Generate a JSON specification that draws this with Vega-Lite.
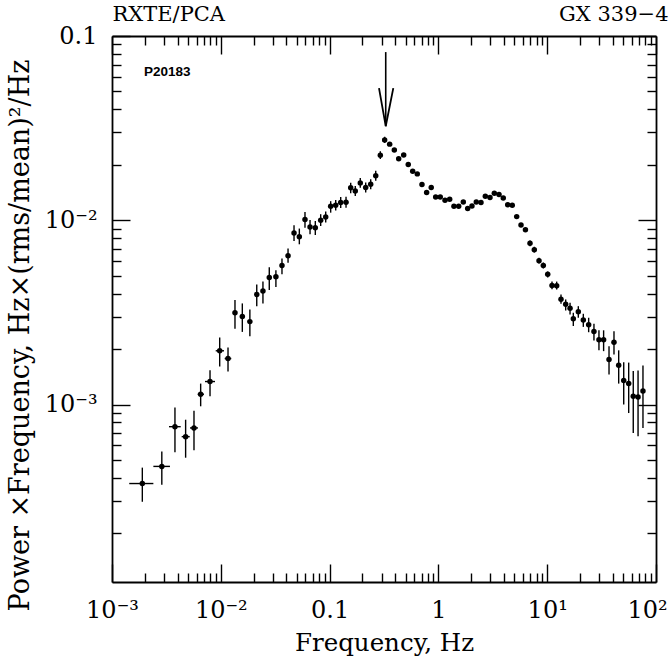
{
  "$schema": "https://vega.github.io/schema/vega-lite/v6.json",
  "width": 544,
  "height": 546,
  "autosize": {"type": "none"},
  "padding": {"left": 112, "top": 36, "right": 14, "bottom": 75},
  "background": "white",
  "config": {
    "view": {"stroke": null},
    "axis": {
      "grid": false,
      "domainColor": "black",
      "domainWidth": 1.8,
      "tickColor": "black",
      "tickWidth": 1.4,
      "labelFont": "DejaVu Serif",
      "labelFontSize": 24,
      "labelColor": "black",
      "titleFont": "DejaVu Serif",
      "titleFontSize": 24,
      "titleFontWeight": "normal",
      "titleColor": "black"
    }
  },
  "datasets": {
    "pts": [
      {"f": 0.0019, "p": 0.000373, "lo": 0.000297, "hi": 0.000455, "flo": 0.00144, "fhi": 0.0024},
      {"f": 0.00287, "p": 0.000462, "lo": 0.000367, "hi": 0.000557, "flo": 0.0024, "fhi": 0.00341},
      {"f": 0.00379, "p": 0.000759, "lo": 0.000551, "hi": 0.000964, "flo": 0.00334, "fhi": 0.00428},
      {"f": 0.00475, "p": 0.00067, "lo": 0.000515, "hi": 0.000828, "flo": 0.00437, "fhi": 0.00518},
      {"f": 0.00567, "p": 0.000747, "lo": 0.000565, "hi": 0.000927, "flo": 0.00521, "fhi": 0.00617},
      {"f": 0.00653, "p": 0.001138, "lo": 0.000979, "hi": 0.0013, "flo": 0.00613, "fhi": 0.00701},
      {"f": 0.00796, "p": 0.001334, "lo": 0.00111, "hi": 0.001535, "flo": 0.00716, "fhi": 0.00885},
      {"f": 0.00977, "p": 0.001959, "lo": 0.00161, "hi": 0.00231, "flo": 0.00898, "fhi": 0.0107},
      {"f": 0.01165, "p": 0.001778, "lo": 0.00151, "hi": 0.00204, "flo": 0.01086, "fhi": 0.01248},
      {"f": 0.0135, "p": 0.00315, "lo": 0.00258, "hi": 0.00369},
      {"f": 0.01577, "p": 0.00301, "lo": 0.00248, "hi": 0.00354},
      {"f": 0.0185, "p": 0.00282, "lo": 0.00235, "hi": 0.00328},
      {"f": 0.0214, "p": 0.00396, "lo": 0.00342, "hi": 0.00449},
      {"f": 0.0244, "p": 0.00413, "lo": 0.00354, "hi": 0.00465},
      {"f": 0.0279, "p": 0.00489, "lo": 0.00418, "hi": 0.00557},
      {"f": 0.0321, "p": 0.00494, "lo": 0.00434, "hi": 0.00535},
      {"f": 0.0365, "p": 0.00569, "lo": 0.00509, "hi": 0.00621},
      {"f": 0.0415, "p": 0.00643, "lo": 0.00589, "hi": 0.00702},
      {"f": 0.0471, "p": 0.00853, "lo": 0.00772, "hi": 0.0094},
      {"f": 0.0527, "p": 0.00815, "lo": 0.00741, "hi": 0.00902},
      {"f": 0.0594, "p": 0.01009, "lo": 0.00912, "hi": 0.0111},
      {"f": 0.0661, "p": 0.0092, "lo": 0.00839, "hi": 0.01004},
      {"f": 0.0739, "p": 0.00912, "lo": 0.00832, "hi": 0.00991},
      {"f": 0.0828, "p": 0.01, "lo": 0.00931, "hi": 0.01079},
      {"f": 0.0921, "p": 0.01042, "lo": 0.00972, "hi": 0.01115},
      {"f": 0.1023, "p": 0.01191, "lo": 0.011, "hi": 0.0127},
      {"f": 0.1138, "p": 0.01208, "lo": 0.0113, "hi": 0.01288},
      {"f": 0.1265, "p": 0.01248, "lo": 0.01165, "hi": 0.01336},
      {"f": 0.1416, "p": 0.01253, "lo": 0.0117, "hi": 0.01343},
      {"f": 0.1563, "p": 0.015, "lo": 0.014, "hi": 0.016},
      {"f": 0.1722, "p": 0.01442, "lo": 0.01355, "hi": 0.01535},
      {"f": 0.1914, "p": 0.01596, "lo": 0.015, "hi": 0.01698},
      {"f": 0.2147, "p": 0.01507, "lo": 0.01415, "hi": 0.01603},
      {"f": 0.2387, "p": 0.0157, "lo": 0.01473, "hi": 0.01671},
      {"f": 0.2655, "p": 0.01746, "lo": 0.0164, "hi": 0.01858},
      {"f": 0.2925, "p": 0.02254, "lo": 0.0215, "hi": 0.0237},
      {"f": 0.3207, "p": 0.0273, "lo": 0.0263, "hi": 0.0284},
      {"f": 0.3565, "p": 0.0259},
      {"f": 0.3935, "p": 0.0241},
      {"f": 0.4315, "p": 0.0216},
      {"f": 0.4797, "p": 0.0226},
      {"f": 0.5284, "p": 0.0201},
      {"f": 0.5803, "p": 0.01845},
      {"f": 0.6397, "p": 0.01786},
      {"f": 0.7063, "p": 0.01563},
      {"f": 0.7798, "p": 0.01415},
      {"f": 0.8592, "p": 0.01507},
      {"f": 0.944, "p": 0.01339},
      {"f": 1.04, "p": 0.01339},
      {"f": 1.15, "p": 0.01285},
      {"f": 1.27, "p": 0.013},
      {"f": 1.39, "p": 0.01191},
      {"f": 1.537, "p": 0.01191},
      {"f": 1.694, "p": 0.01257},
      {"f": 1.858, "p": 0.01158},
      {"f": 2.035, "p": 0.01197},
      {"f": 2.229, "p": 0.01257},
      {"f": 2.463, "p": 0.01248},
      {"f": 2.7, "p": 0.01349},
      {"f": 2.98, "p": 0.01328},
      {"f": 3.265, "p": 0.01402},
      {"f": 3.606, "p": 0.0138},
      {"f": 3.947, "p": 0.01321},
      {"f": 4.335, "p": 0.01216},
      {"f": 4.775, "p": 0.01208},
      {"f": 5.243, "p": 0.01047},
      {"f": 5.745, "p": 0.00942},
      {"f": 6.31, "p": 0.00889},
      {"f": 6.95, "p": 0.0075, "lo": 0.00723, "hi": 0.00778},
      {"f": 7.61, "p": 0.00693, "lo": 0.00668, "hi": 0.00719},
      {"f": 8.41, "p": 0.00604, "lo": 0.00582, "hi": 0.00627},
      {"f": 9.21, "p": 0.00569, "lo": 0.00548, "hi": 0.0059},
      {"f": 10.11, "p": 0.00509, "lo": 0.0049, "hi": 0.00528},
      {"f": 11.07, "p": 0.00443, "lo": 0.00422, "hi": 0.00466},
      {"f": 12.22, "p": 0.00442, "lo": 0.00421, "hi": 0.00465},
      {"f": 13.39, "p": 0.00373, "lo": 0.00352, "hi": 0.00396},
      {"f": 14.79, "p": 0.0035, "lo": 0.00324, "hi": 0.00372},
      {"f": 16.22, "p": 0.00333, "lo": 0.00308, "hi": 0.00357},
      {"f": 17.38, "p": 0.00292, "lo": 0.00267, "hi": 0.00315},
      {"f": 19.32, "p": 0.00319, "lo": 0.00296, "hi": 0.00342},
      {"f": 21.48, "p": 0.00288, "lo": 0.00264, "hi": 0.00311},
      {"f": 24.05, "p": 0.00271, "lo": 0.00247, "hi": 0.00296},
      {"f": 26.9, "p": 0.00249, "lo": 0.00223, "hi": 0.00275},
      {"f": 29.9, "p": 0.00225, "lo": 0.00197, "hi": 0.00253},
      {"f": 33.0, "p": 0.00225, "lo": 0.00195, "hi": 0.00253},
      {"f": 37.0, "p": 0.001758, "lo": 0.001456, "hi": 0.00207},
      {"f": 41.1, "p": 0.00218, "lo": 0.00187, "hi": 0.0025},
      {"f": 45.4, "p": 0.001636, "lo": 0.0013, "hi": 0.00197},
      {"f": 50.5, "p": 0.00135, "lo": 0.001, "hi": 0.0017},
      {"f": 56.1, "p": 0.0013, "lo": 0.0009, "hi": 0.00169},
      {"f": 61.8, "p": 0.00111, "lo": 0.000702, "hi": 0.00152},
      {"f": 68.4, "p": 0.0011, "lo": 0.000673, "hi": 0.00153},
      {"f": 75.9, "p": 0.001186, "lo": 0.000747, "hi": 0.00163}
    ],
    "arrow": [{"f": 0.328, "top": 0.0818, "tip": 0.0324}],
    "head": [
      {"f": 0.2845, "p": 0.0521, "o": 1},
      {"f": 0.328, "p": 0.0324, "o": 2},
      {"f": 0.385, "p": 0.0521, "o": 3}
    ],
    "note": [{"f": 0.00197, "p": 0.0635, "t": "P20183"}]
  },
  "resolve": {"axis": {"x": "independent", "y": "independent"}},
  "layer": [
    {
      "data": {"name": "pts"},
      "transform": [{"filter": "isValid(datum.lo)"}],
      "mark": {"type": "rule", "color": "black", "strokeWidth": 1.4},
      "encoding": {
        "x": {
          "field": "f", "type": "quantitative",
          "scale": {"type": "log", "domain": [0.001, 100], "nice": false},
          "axis": {
            "orient": "bottom",
            "values": [0.001, 0.01, 0.1, 1, 10, 100],
            "ticks": false,
            "domain": false,
            "labelExpr": "datum.value < 0.005 ? '10⁻³' : datum.value < 0.05 ? '10⁻²' : datum.value < 0.5 ? '0.1' : datum.value < 5 ? '1' : datum.value < 50 ? '10¹' : '10²'",
            "labelPadding": 35,
            "labelBaseline": "alphabetic",
            "labelOffset": {"condition": {"test": "datum.value > 50", "value": -9}, "value": 0},
            "labelFlush": false,
            "labelOverlap": false,
            "labelBound": false,
            "title": "Frequency, Hz",
            "titleX": 272,
            "titleY": 68,
            "titleAlign": "center",
            "titleBaseline": "alphabetic",
            "titleFontSize": 24.5
          }
        },
        "y": {
          "field": "lo", "type": "quantitative",
          "scale": {"type": "log", "domain": [0.000109, 0.1], "nice": false},
          "axis": {
            "orient": "left",
            "values": [0.001, 0.01, 0.1],
            "ticks": false,
            "domain": false,
            "labelExpr": "datum.value < 0.005 ? '10⁻³' : datum.value < 0.05 ? '10⁻²' : '0.1'",
            "labelPadding": 15,
            "labelFlush": false,
            "labelOverlap": false,
            "labelBound": false,
            "title": "Power ×Frequency, Hz×(rms/mean)²/Hz",
            "titleAngle": 270,
            "titleX": -84,
            "titleY": 299,
            "titleAlign": "center",
            "titleBaseline": "alphabetic",
            "titleFontSize": 27
          }
        },
        "y2": {"field": "hi"}
      }
    },
    {
      "data": {"name": "pts"},
      "transform": [{"filter": "isValid(datum.flo)"}],
      "mark": {"type": "rule", "color": "black", "strokeWidth": 1.4},
      "encoding": {
        "x": {
          "field": "flo", "type": "quantitative",
          "scale": {"type": "log", "domain": [0.001, 100], "nice": false},
          "axis": {
            "orient": "bottom",
            "values": [0.001, 0.002, 0.003, 0.004, 0.005, 0.006, 0.007, 0.008, 0.009, 0.01, 0.02, 0.03, 0.04, 0.05, 0.06, 0.07, 0.08, 0.09, 0.1, 0.2, 0.3, 0.4, 0.5, 0.6, 0.7, 0.8, 0.9, 1, 2, 3, 4, 5, 6, 7, 8, 9, 10, 20, 30, 40, 50, 60, 70, 80, 90, 100],
            "labels": false,
            "tickSize": {"condition": {"test": "abs(log(datum.value)/LN10 - round(log(datum.value)/LN10)) < 0.01", "value": -18}, "value": -9},
            "title": null
          }
        },
        "x2": {"field": "fhi"},
        "y": {
          "field": "p", "type": "quantitative",
          "scale": {"type": "log", "domain": [0.000109, 0.1], "nice": false},
          "axis": {
            "orient": "left",
            "values": [0.0002, 0.0003, 0.0004, 0.0005, 0.0006, 0.0007, 0.0008, 0.0009, 0.001, 0.002, 0.003, 0.004, 0.005, 0.006, 0.007, 0.008, 0.009, 0.01, 0.02, 0.03, 0.04, 0.05, 0.06, 0.07, 0.08, 0.09, 0.1],
            "labels": false,
            "tickSize": {"condition": {"test": "abs(log(datum.value)/LN10 - round(log(datum.value)/LN10)) < 0.01", "value": -18}, "value": -9},
            "title": null
          }
        }
      }
    },
    {
      "data": {"name": "pts"},
      "mark": {"type": "circle", "color": "black", "size": 30, "opacity": 1},
      "encoding": {
        "x": {
          "field": "f", "type": "quantitative",
          "scale": {"type": "log", "domain": [0.001, 100], "nice": false},
          "axis": {
            "orient": "top",
            "values": [0.001, 0.002, 0.003, 0.004, 0.005, 0.006, 0.007, 0.008, 0.009, 0.01, 0.02, 0.03, 0.04, 0.05, 0.06, 0.07, 0.08, 0.09, 0.1, 0.2, 0.3, 0.4, 0.5, 0.6, 0.7, 0.8, 0.9, 1, 2, 3, 4, 5, 6, 7, 8, 9, 10, 20, 30, 40, 50, 60, 70, 80, 90, 100],
            "labels": false,
            "tickSize": {"condition": {"test": "abs(log(datum.value)/LN10 - round(log(datum.value)/LN10)) < 0.01", "value": -18}, "value": -9},
            "title": "RXTE/PCA",
            "titleX": 0,
            "titleY": -16,
            "titleAlign": "left",
            "titleBaseline": "alphabetic",
            "titleFontSize": 21
          }
        },
        "y": {
          "field": "p", "type": "quantitative",
          "scale": {"type": "log", "domain": [0.000109, 0.1], "nice": false},
          "axis": {
            "orient": "right",
            "values": [0.0002, 0.0003, 0.0004, 0.0005, 0.0006, 0.0007, 0.0008, 0.0009, 0.001, 0.002, 0.003, 0.004, 0.005, 0.006, 0.007, 0.008, 0.009, 0.01, 0.02, 0.03, 0.04, 0.05, 0.06, 0.07, 0.08, 0.09, 0.1],
            "labels": false,
            "tickSize": {"condition": {"test": "abs(log(datum.value)/LN10 - round(log(datum.value)/LN10)) < 0.01", "value": -18}, "value": -9},
            "title": null
          }
        }
      }
    },
    {
      "data": {"name": "arrow"},
      "mark": {"type": "rule", "color": "black", "strokeWidth": 1.6},
      "encoding": {
        "x": {
          "field": "f", "type": "quantitative",
          "scale": {"type": "log", "domain": [0.001, 100], "nice": false},
          "axis": {
            "orient": "top",
            "ticks": false,
            "labels": false,
            "domain": false,
            "title": "GX 339−4",
            "titleX": 556,
            "titleY": -16,
            "titleAlign": "right",
            "titleBaseline": "alphabetic",
            "titleFontSize": 21
          }
        },
        "y": {
          "field": "top", "type": "quantitative",
          "scale": {"type": "log", "domain": [0.000109, 0.1], "nice": false},
          "axis": null
        },
        "y2": {"field": "tip"}
      }
    },
    {
      "data": {"name": "head"},
      "mark": {"type": "line", "color": "black", "strokeWidth": 1.8, "strokeJoin": "miter"},
      "encoding": {
        "x": {"field": "f", "type": "quantitative", "scale": {"type": "log", "domain": [0.001, 100], "nice": false}, "axis": null},
        "y": {"field": "p", "type": "quantitative", "scale": {"type": "log", "domain": [0.000109, 0.1], "nice": false}, "axis": null},
        "order": {"field": "o", "type": "quantitative"}
      }
    },
    {
      "data": {"name": "note"},
      "mark": {"type": "text", "align": "left", "baseline": "middle", "font": "Liberation Sans", "fontSize": 13.5, "fontWeight": "bold", "color": "black"},
      "encoding": {
        "x": {"field": "f", "type": "quantitative", "scale": {"type": "log", "domain": [0.001, 100], "nice": false}, "axis": null},
        "y": {"field": "p", "type": "quantitative", "scale": {"type": "log", "domain": [0.000109, 0.1], "nice": false}, "axis": null},
        "text": {"field": "t"}
      }
    }
  ]
}
